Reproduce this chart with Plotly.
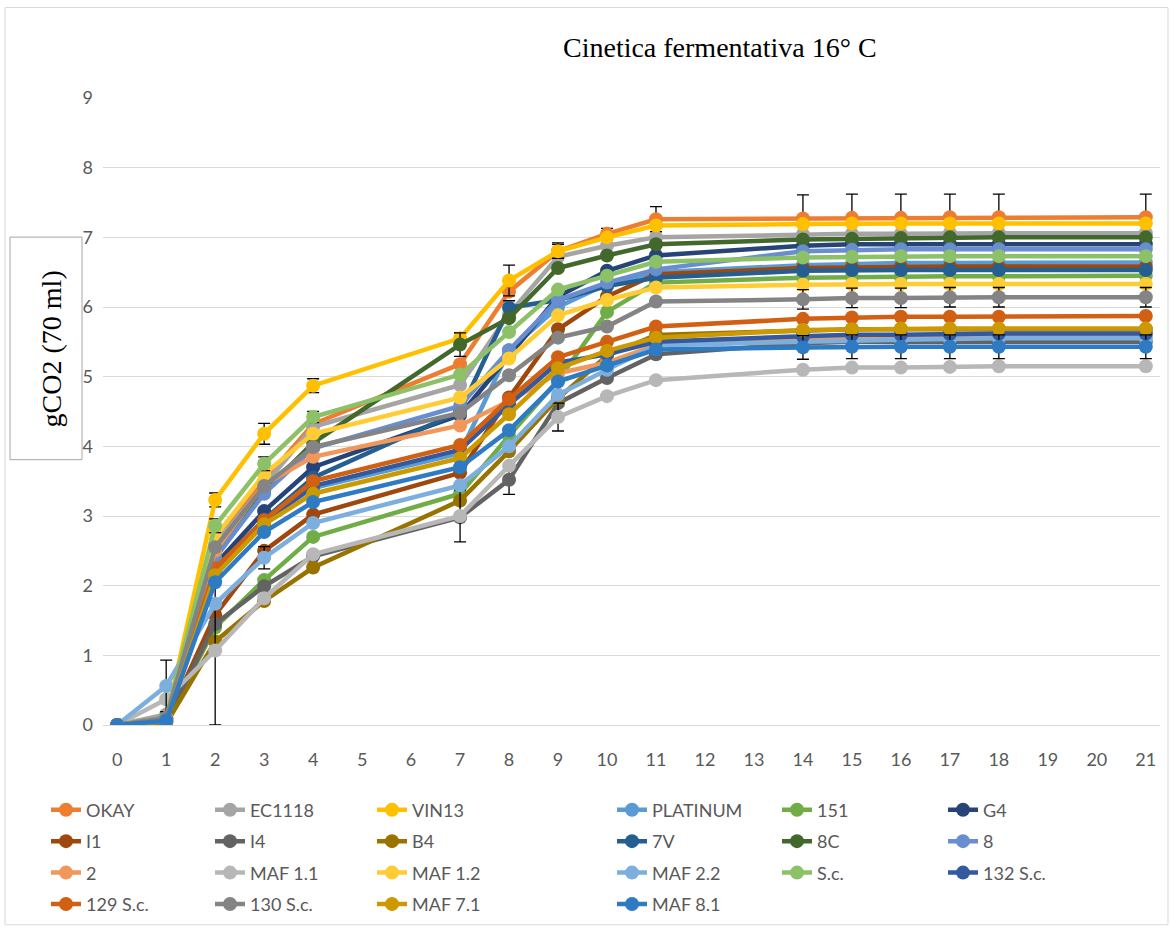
import plotly.graph_objects as go

days = [0, 1, 2, 3, 4, 7, 8, 9, 10, 11, 14, 15, 16, 17, 18, 21]
x_ticks = list(range(0, 22))

names = ["OKAY", "EC1118", "VIN13", "PLATINUM", "151", "G4",
         "I1", "I4", "B4", "7V", "8C", "8",
         "2", "MAF 1.1", "MAF 1.2", "MAF 2.2", "S.c.", "132 S.c.",
         "129 S.c.", "130 S.c.", "MAF 7.1", "MAF 8.1"]

colors = ["#ED7D31", "#A5A5A5", "#FFC000", "#5B9BD5", "#70AD47", "#264478",
          "#9E480E", "#636363", "#997300", "#255E91", "#43682B", "#698ED0",
          "#F1975A", "#B7B7B7", "#FFCD33", "#7CAFDD", "#8CC168", "#335AA1",
          "#D26012", "#848484", "#CC9A00", "#2E7BC4"]

okay = [0, 0.10, 2.70, 3.50, 4.32, 5.18, 6.22, 6.80, 7.05, 7.26, 7.27, 7.28, 7.28, 7.29, 7.29, 7.29]
ec1118 = [0, 0.15, 2.60, 3.45, 4.28, 4.88, 5.90, 6.72, 6.88, 7.00, 7.04, 7.05, 7.05, 7.06, 7.06, 7.06]
vin13 = [0, 0.08, 3.23, 4.18, 4.87, 5.55, 6.38, 6.80, 7.00, 7.17, 7.19, 7.20, 7.20, 7.20, 7.20, 7.20]
platinum = [0, 0.10, 2.25, 2.95, 3.40, 3.90, 5.38, 6.00, 6.33, 6.50, 6.60, 6.62, 6.63, 6.63, 6.63, 6.64]
s151 = [0, 0.05, 1.40, 2.08, 2.70, 3.32, 4.15, 4.95, 5.93, 6.35, 6.42, 6.43, 6.43, 6.44, 6.44, 6.45]
g4 = [0, 0.10, 2.30, 3.07, 3.70, 4.45, 5.30, 6.15, 6.52, 6.74, 6.88, 6.90, 6.90, 6.90, 6.90, 6.90]
i1 = [0, 0.05, 1.58, 2.50, 3.02, 3.62, 4.70, 5.68, 6.15, 6.47, 6.56, 6.57, 6.58, 6.58, 6.58, 6.58]
i4 = [0, 0.05, 1.45, 1.99, 2.42, 2.98, 3.52, 4.62, 4.98, 5.32, 5.48, 5.50, 5.50, 5.50, 5.50, 5.50]
b4 = [0, 0.02, 1.20, 1.78, 2.26, 3.22, 3.93, 4.69, 5.30, 5.60, 5.66, 5.68, 5.68, 5.68, 5.68, 5.68]
v7 = [0, 0.10, 2.20, 2.95, 3.55, 4.50, 5.99, 6.10, 6.30, 6.42, 6.52, 6.53, 6.53, 6.53, 6.53, 6.53]
c8 = [0, 0.05, 2.40, 3.35, 4.05, 5.46, 5.84, 6.56, 6.74, 6.90, 6.97, 6.98, 6.99, 7.00, 7.00, 7.00]
s8 = [0, 0.10, 2.40, 3.32, 3.97, 4.58, 5.38, 6.10, 6.35, 6.54, 6.80, 6.82, 6.83, 6.83, 6.83, 6.83]
s2 = [0, 0.10, 2.50, 3.45, 3.85, 4.30, 4.65, 5.05, 5.20, 5.45, 5.55, 5.57, 5.58, 5.60, 5.60, 5.60]
maf11 = [0, 0.37, 1.07, 1.82, 2.45, 3.00, 3.72, 4.42, 4.72, 4.95, 5.10, 5.13, 5.13, 5.14, 5.15, 5.15]
maf12 = [0, 0.10, 2.70, 3.60, 4.18, 4.70, 5.26, 5.88, 6.10, 6.28, 6.32, 6.33, 6.33, 6.33, 6.33, 6.33]
maf22 = [0, 0.56, 1.74, 2.40, 2.90, 3.44, 4.00, 4.74, 5.10, 5.45, 5.50, 5.52, 5.53, 5.54, 5.55, 5.55]
sc = [0, 0.10, 2.86, 3.75, 4.42, 5.03, 5.64, 6.25, 6.45, 6.65, 6.71, 6.72, 6.73, 6.73, 6.73, 6.73]
sc132 = [0, 0.08, 2.20, 2.90, 3.43, 3.95, 4.60, 5.20, 5.32, 5.50, 5.58, 5.60, 5.60, 5.61, 5.62, 5.62]
sc129 = [0, 0.08, 2.25, 2.94, 3.50, 4.02, 4.68, 5.28, 5.50, 5.72, 5.83, 5.85, 5.86, 5.86, 5.86, 5.87]
sc130 = [0, 0.10, 2.55, 3.43, 3.99, 4.48, 5.02, 5.56, 5.72, 6.08, 6.11, 6.13, 6.13, 6.14, 6.14, 6.14]
maf71 = [0, 0.05, 2.15, 2.88, 3.32, 3.83, 4.46, 5.12, 5.37, 5.56, 5.67, 5.68, 5.69, 5.69, 5.69, 5.69]
maf81 = [0, 0.06, 2.05, 2.77, 3.20, 3.70, 4.23, 4.93, 5.16, 5.39, 5.42, 5.43, 5.43, 5.43, 5.43, 5.43]

series = [okay, ec1118, vin13, platinum, s151, g4, i1, i4, b4, v7, c8, s8,
          s2, maf11, maf12, maf22, sc, sc132, sc129, sc130, maf71, maf81]

# standard deviations (error bars)
err_okay = [0, 0, 0, 0, 0, 0, 0, 0.12, 0.08, 0.18, 0.34, 0.34, 0.34, 0.33, 0.33, 0.33]
err_vin13 = [0, 0, 0.10, 0.15, 0.10, 0.08, 0.22, 0.10, 0, 0, 0, 0, 0, 0, 0, 0]
err_maf22 = [0, 0.37, 0, 0.16, 0, 0, 0, 0, 0, 0, 0, 0, 0, 0, 0, 0]
err_maf11 = [0, 0, 1.07, 0, 0, 0.37, 0, 0.20, 0, 0, 0, 0, 0, 0, 0, 0]
err_i4 = [0, 0, 0, 0, 0, 0, 0.21, 0, 0, 0, 0, 0, 0, 0, 0, 0]
err_8c = [0, 0, 0, 0, 0, 0.17, 0, 0, 0, 0, 0, 0, 0, 0, 0, 0]
err_7v = [0, 0, 0, 0, 0, 0, 0.10, 0, 0, 0, 0, 0, 0, 0, 0, 0]
err_sc = [0, 0, 0.10, 0.10, 0.08, 0, 0, 0, 0, 0, 0, 0, 0, 0, 0, 0]
err_sc130 = [0, 0, 0, 0, 0, 0, 0, 0, 0, 0, 0.14, 0.14, 0.14, 0.14, 0.14, 0.14]
err_maf81 = [0, 0, 0, 0, 0, 0, 0, 0, 0, 0, 0.17, 0.17, 0.17, 0.17, 0.17, 0.17]

errors = {"OKAY": err_okay, "VIN13": err_vin13, "MAF 2.2": err_maf22,
          "MAF 1.1": err_maf11, "I4": err_i4, "8C": err_8c, "7V": err_7v,
          "S.c.": err_sc, "130 S.c.": err_sc130, "MAF 8.1": err_maf81}

title_text = "Cinetica fermentativa 16° C"
y_title = "gCO2 (70 ml)"

# ---- layout geometry (pixels) ----
W, H = 1171, 934
L, R, T, B = 103, 1160, 98, 729
pw, ph = R - L, B - T


def xp(px):
    return (px - L) / pw


def yp(py):
    return (B - py) / ph


FONT = "Lato, Open Sans, sans-serif"
SERIF = "Liberation Serif, Times New Roman, serif"
GRAY = "#595959"

legend_cols_px = [62, 226, 388, 628, 793, 959]
legend_top_px = 796

fig = go.Figure()
for i, (nm, ys) in enumerate(zip(names, series)):
    col = i % 6
    lg = "legend" if col == 0 else f"legend{col + 1}"
    kw = {}
    if nm in errors:
        kw["error_y"] = dict(type="data", array=errors[nm], visible=True,
                             color="#000000", thickness=1.3, width=6)
    fig.add_trace(go.Scatter(
        x=days, y=ys, name=nm, mode="lines+markers",
        line=dict(color=colors[i], width=4.5),
        marker=dict(color=colors[i], size=14),
        legend=lg, legendgroup=nm, **kw))

layout_legends = {}
for c, cx in enumerate(legend_cols_px):
    key = "legend" if c == 0 else f"legend{c + 1}"
    layout_legends[key] = dict(
        x=xp(cx - 16), y=yp(legend_top_px), xanchor="left", yanchor="top",
        bgcolor="rgba(0,0,0,0)", font=dict(family=FONT, size=18, color=GRAY),
        traceorder="grouped", tracegroupgap=5, itemclick=False,
        orientation="v")

fig.update_layout(
    width=W, height=H,
    margin=dict(l=L, r=W - R, t=T, b=H - B, pad=0),
    paper_bgcolor="white", plot_bgcolor="white",
    showlegend=True,
    xaxis=dict(range=[-0.29, 21.29], tickmode="array", tickvals=x_ticks,
               ticktext=[str(v) for v in x_ticks], showgrid=False,
               zeroline=False, showline=True, linecolor="#D9D9D9", linewidth=1,
               ticks="", ticklabelstandoff=18,
               tickfont=dict(family=FONT, size=18, color=GRAY)),
    yaxis=dict(range=[0, 9], tickmode="array", tickvals=list(range(0, 10)),
               showgrid=True, gridcolor="#D9D9D9", gridwidth=1,
               zeroline=False, showline=False, ticks="", ticklabelstandoff=9,
               tickfont=dict(family=FONT, size=18, color=GRAY)),
    annotations=[
        dict(text=title_text, xref="paper", yref="paper", x=xp(720), y=yp(47),
             xanchor="center", yanchor="middle", showarrow=False,
             font=dict(family=SERIF, size=28, color="#000000")),
        dict(text=y_title, xref="paper", yref="paper", x=xp(51), y=yp(350),
             xanchor="center", yanchor="middle", showarrow=False, textangle=-90,
             font=dict(family=SERIF, size=28, color="#000000")),
    ],
    shapes=[
        dict(type="rect", xref="paper", yref="paper", x0=xp(10), x1=xp(82),
             y0=yp(238), y1=yp(462), line=dict(color="#A6A6A6", width=1),
             layer="below"),
        dict(type="rect", xref="paper", yref="paper", x0=xp(5), x1=xp(1168),
             y0=yp(7), y1=yp(930), line=dict(color="#D9D9D9", width=1),
             layer="below"),
    ],
    **layout_legends,
)

fig.write_html("out.html")
